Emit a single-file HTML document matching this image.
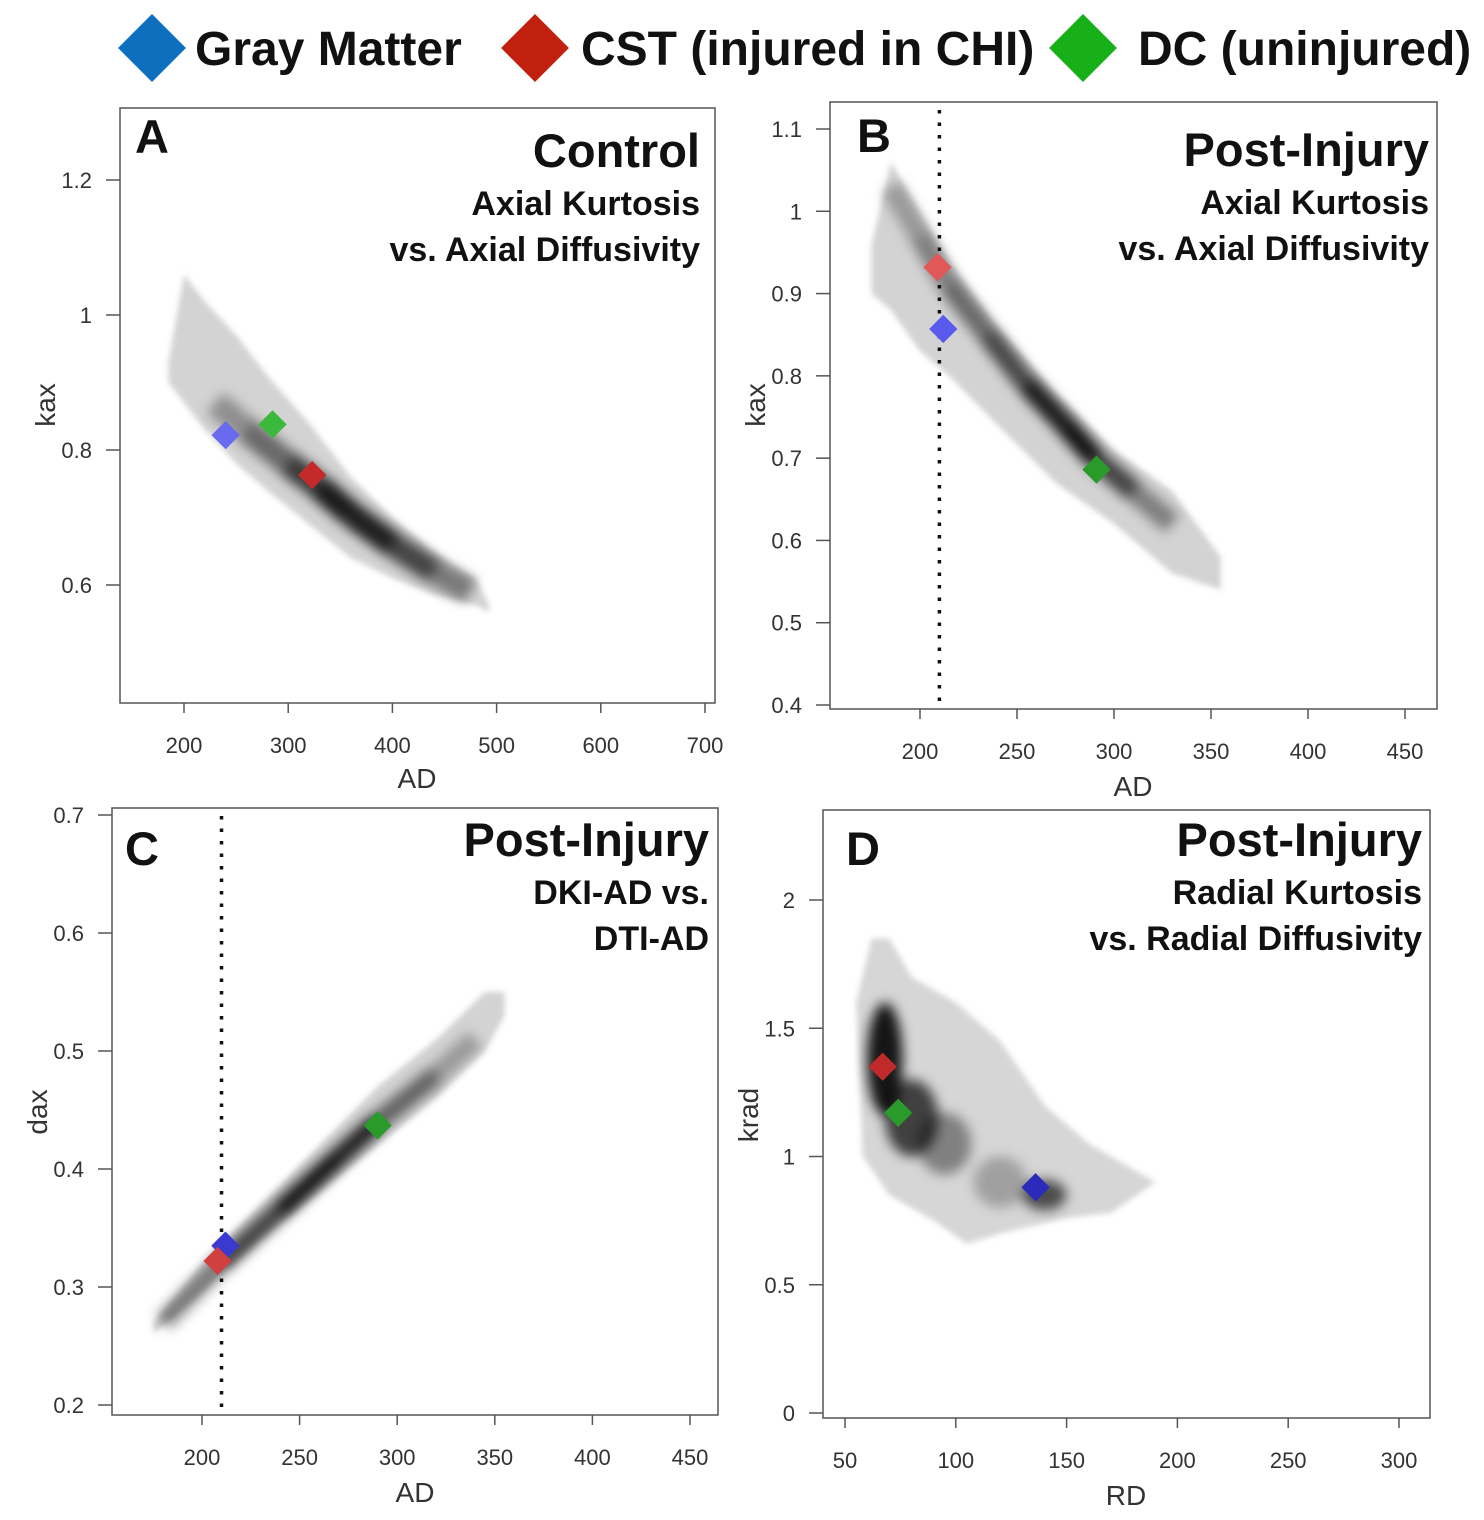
<!DOCTYPE html>
<html><head><meta charset="utf-8">
<style>
html,body{margin:0;padding:0;background:#fff;}
svg{display:block;font-family:"Liberation Sans",Arial,sans-serif;}
.tick{font-size:22px;fill:#333;}
.atitle{font-size:28px;fill:#333;}
.big{font-size:47px;font-weight:bold;fill:#111;}
.sub{font-size:34px;font-weight:bold;fill:#111;}
.leg{font-size:48px;font-weight:bold;fill:#111;}
</style></head>
<body>
<svg id="fig" width="1484" height="1520" viewBox="0 0 1484 1520">
<defs>
<filter id="blur" filterUnits="userSpaceOnUse" x="0" y="0" width="1484" height="1520"><feGaussianBlur stdDeviation="3"/></filter>
<filter id="blur2" filterUnits="userSpaceOnUse" x="0" y="0" width="1484" height="1520"><feGaussianBlur stdDeviation="6"/></filter>
</defs>
<g>
<g>
<rect x="128" y="24" width="48" height="48" fill="#0f6fbf" transform="rotate(45 152 48)"/>
<text class="leg" x="195" y="65">Gray Matter</text></g>
<g>
<rect x="511" y="24" width="48" height="48" fill="#c0200d" transform="rotate(45 535 48)"/>
<text class="leg" x="581" y="65">CST (injured in CHI)</text></g>
<g>
<rect x="1059" y="24" width="48" height="48" fill="#18b018" transform="rotate(45 1083 48)"/>
<text class="leg" x="1138" y="65">DC (uninjured)</text></g>
</g>
</svg>
<script>
// ---------- Panel A data ----------
const aXTicks=[200,300,400,500,600,700];
const aYTicks=[0.6,0.8,1,1.2];
const aBandX=[185,200,220,250,280,320,360,400,440,480,493];
const aBandHi=[0.93,1.06,1.02,0.97,0.91,0.84,0.76,0.70,0.65,0.61,0.57];
const aBandLo=[0.90,0.87,0.83,0.78,0.74,0.69,0.64,0.61,0.585,0.57,0.56];
const aCoreX=[230,260,300,330,360,400,440,475];
const aCoreY=[0.87,0.83,0.78,0.745,0.705,0.66,0.62,0.59];
const aCoreDark=[0.25,0.4,0.6,0.85,0.9,0.8,0.55,0.3];
const aMarkX=[240,285,323];
const aMarkY=[0.822,0.838,0.763];
// ---------- Panel B data ----------
const bXTicks=[200,250,300,350,400,450];
const bYTicks=[0.4,0.5,0.6,0.7,0.8,0.9,1,1.1];
const bBandX=[175,185,200,215,240,270,300,330,355];
const bBandHi=[0.96,1.06,1.0,0.94,0.86,0.78,0.71,0.66,0.58];
const bBandLo=[0.90,0.88,0.83,0.80,0.74,0.67,0.62,0.56,0.54];
const bCoreX=[185,200,215,235,255,275,290,310,330];
const bCoreY=[1.03,0.97,0.91,0.85,0.79,0.74,0.70,0.66,0.62];
const bCoreDark=[0.2,0.35,0.45,0.55,0.75,0.95,0.85,0.5,0.3];
const bMarkX=[212,209,291];
const bMarkY=[0.857,0.932,0.686];
const bCutoff=210;
// ---------- Panel C data ----------
const cXTicks=[200,250,300,350,400,450];
const cYTicks=[0.2,0.3,0.4,0.5,0.6,0.7];
const cBandX=[175,200,230,260,290,320,345,355];
const cBandHi=[0.27,0.32,0.37,0.42,0.47,0.51,0.55,0.55];
const cBandLo=[0.26,0.295,0.34,0.38,0.42,0.46,0.50,0.53];
const cCoreX=[180,210,240,270,290,320,340];
const cCoreY=[0.27,0.32,0.365,0.41,0.44,0.48,0.51];
const cCoreDark=[0.3,0.55,0.8,0.95,0.7,0.35,0.2];
const cMarkX=[212,208,290];
const cMarkY=[0.335,0.322,0.437];
const cCutoff=210;
// ---------- Panel D data ----------
const dXTicks=[50,100,150,200,250,300];
const dYTicks=[0,0.5,1,1.5,2];
const dOutlineX=[55,62,70,80,100,120,140,160,190,170,150,120,105,90,70,58];
const dOutlineY=[1.6,1.85,1.85,1.7,1.6,1.45,1.2,1.05,0.9,0.78,0.76,0.70,0.66,0.75,0.85,1.0];
const dBlobX=[68,80,95,140,120];
const dBlobY=[1.38,1.15,1.05,0.85,0.9];
const dBlobRx=[8,12,12,10,12];
const dBlobRy=[0.22,0.15,0.12,0.06,0.1];
const dBlobDark=[0.9,0.7,0.4,0.65,0.25];
const dMarkX=[136,67,74];
const dMarkY=[0.88,1.35,1.17];

const NS='http://www.w3.org/2000/svg';
const svg=document.getElementById('fig');
function mk(tag,attrs,parent){const e=document.createElementNS(NS,tag);for(const k in attrs)e.setAttribute(k,attrs[k]);parent.appendChild(e);return e;}
function lin(d0,d1,p0,p1){return v=>p0+(v-d0)*(p1-p0)/(d1-d0);}

function panel(cfg){
  const g=mk('g',{},svg);
  
  
  const sx=cfg.sx, sy=cfg.sy, b=cfg.box;
  const plot=mk('g',{},g);
  
  
  cfg.drawCloud(plot,sx,sy);
  if(cfg.cutoff!==undefined){
    const l=mk('line',{x1:sx(cfg.cutoff),x2:sx(cfg.cutoff),y1:b[1]+8,y2:b[3]-4,stroke:'#111','stroke-width':3.5,'stroke-dasharray':'3.5 9'},g);
    
    
  }
  const cols=cfg.markColors;
  for(let i=0;i<cfg.markX.length;i++){
    const px=sx(cfg.markX[i]),py=sy(cfg.markY[i]);
    const r=mk('rect',{x:px-10,y:py-10,width:20,height:20,fill:cols[i],transform:`rotate(45 ${px} ${py})`},g);
    
    
  }
  const box=mk('rect',{x:b[0],y:b[1],width:b[2]-b[0],height:b[3]-b[1],fill:'none',stroke:'#555','stroke-width':1.5},g);
  
  
  const xa=mk('g',{},g);
  
  
  cfg.xTicks.forEach(t=>{
    const x=sx(t);
    mk('line',{x1:x,x2:x,y1:b[3],y2:b[3]+10,stroke:'#555','stroke-width':1.5},xa);
    const tx=mk('text',{x:x,y:b[3]+50,'text-anchor':'middle',class:'tick'},xa);
    tx.textContent=t;
    
    
  });
  const xt=mk('text',{x:cfg.xTitlePos[0],y:cfg.xTitlePos[1],'text-anchor':'middle',class:'atitle'},g);
  xt.textContent=cfg.xTitle;
  
  
  const ya=mk('g',{},g);
  
  
  cfg.yTicks.forEach(t=>{
    const y=sy(t);
    mk('line',{x1:b[0]-14,x2:b[0],y1:y,y2:y,stroke:'#555','stroke-width':1.5},ya);
    const tx=mk('text',{x:b[0]-28,y:y+8,'text-anchor':'end',class:'tick'},ya);
    tx.textContent=t;
    
    
  });
  const yt=mk('text',{x:cfg.yTitlePos[0],y:cfg.yTitlePos[1],'text-anchor':'middle',class:'atitle',transform:`rotate(-90 ${cfg.yTitlePos[0]} ${cfg.yTitlePos[1]})`},g);
  yt.textContent=cfg.yTitle;
  
  
  const lt=mk('text',{x:cfg.letterPos[0],y:cfg.letterPos[1],class:'big'},g);
  lt.textContent=cfg.letter;
  
  
  const tr=b[2]-cfg.titleInset;
  const t1=mk('text',{x:tr,y:b[1]+cfg.titleY,'text-anchor':'end',class:'big'},g);
  t1.textContent=cfg.titles[0];
  
  
  for(let i=1;i<cfg.titles.length;i++){
    const s=mk('text',{x:tr,y:b[1]+cfg.titleY+48+46*(i-1),'text-anchor':'end',class:'sub'},g);
    s.textContent=cfg.titles[i];
    
    
  }
}

function bandCloud(bx,hi,lo,cx,cy,cd,coreW){
  return function(g,sx,sy){
    let pts=[];
    for(let i=0;i<bx.length;i++)pts.push(sx(bx[i])+','+sy(hi[i]));
    for(let i=bx.length-1;i>=0;i--)pts.push(sx(bx[i])+','+sy(lo[i]));
    const p=mk('polygon',{points:pts.join(' '),fill:'#d3d3d3',filter:'url(#blur)'},g);
    
    
    const cg=mk('g',{filter:'url(#blur2)'},g);
    
    
    for(let i=0;i<cx.length-1;i++){
      const d=(cd[i]+cd[i+1])/2;
      const l=mk('line',{x1:sx(cx[i]),y1:sy(cy[i]),x2:sx(cx[i+1]),y2:sy(cy[i+1]),stroke:'#000','stroke-opacity':d,'stroke-width':coreW,'stroke-linecap':'butt'},cg);
      
      
    }
  };
}

const mNames=['gray-matter','cst','dc'];
panel({name:'panel-a',box:[120,108,715,703],sx:lin(200,700,184,705),sy:lin(0.6,1.2,585,180),
  xTicks:aXTicks,yTicks:aYTicks,xTitle:'AD',yTitle:'kax',xTitlePos:[417,788],yTitlePos:[55,405],
  letter:'A',letterPos:[135,153],titles:['Control','Axial Kurtosis','vs. Axial Diffusivity'],titleInset:15,titleY:59,
  drawCloud:bandCloud(aBandX,aBandHi,aBandLo,aCoreX,aCoreY,aCoreDark,26),
  markX:[aMarkX[0],aMarkX[2],aMarkX[1]],markY:[aMarkY[0],aMarkY[2],aMarkY[1]],
  markColors:['#6a6aee','#c42a2a','#3cb83c'],markNames:mNames});
panel({name:'panel-b',box:[830,102,1437,709],sx:lin(200,450,920,1405),sy:lin(0.4,1.1,705,129),
  xTicks:bXTicks,yTicks:bYTicks,xTitle:'AD',yTitle:'kax',xTitlePos:[1133,796],yTitlePos:[765,405],
  letter:'B',letterPos:[857,152],titles:['Post-Injury','Axial Kurtosis','vs. Axial Diffusivity'],titleInset:8,titleY:64,
  drawCloud:bandCloud(bBandX,bBandHi,bBandLo,bCoreX,bCoreY,bCoreDark,22),cutoff:bCutoff,
  markX:bMarkX,markY:bMarkY,markColors:['#5a5aee','#e05858','#2a9a2a'],markNames:mNames});
panel({name:'panel-c',box:[112,808,718,1415],sx:lin(200,450,202,690),sy:lin(0.2,0.7,1405,815),
  xTicks:cXTicks,yTicks:cYTicks,xTitle:'AD',yTitle:'dax',xTitlePos:[415,1502],yTitlePos:[47,1112],
  letter:'C',letterPos:[125,865],titles:['Post-Injury','DKI-AD vs.','DTI-AD'],titleInset:9,titleY:48,
  drawCloud:bandCloud(cBandX,cBandHi,cBandLo,cCoreX,cCoreY,cCoreDark,20),cutoff:cCutoff,
  markX:cMarkX,markY:cMarkY,markColors:['#3a3ad0','#d04040','#2a9a2a'],markNames:mNames});
panel({name:'panel-d',box:[823,810,1430,1418],sx:lin(50,300,845,1399),sy:lin(0,2,1413,900),
  xTicks:dXTicks,yTicks:dYTicks,xTitle:'RD',yTitle:'krad',xTitlePos:[1126,1505],yTitlePos:[758,1115],
  letter:'D',letterPos:[846,865],titles:['Post-Injury','Radial Kurtosis','vs. Radial Diffusivity'],titleInset:8,titleY:46,
  drawCloud:function(g,sx,sy){
    const pts=dOutlineX.map((x,i)=>sx(x)+','+sy(dOutlineY[i])).join(' ');
    const p=mk('polygon',{points:pts,fill:'#d6d6d6',filter:'url(#blur)'},g);
    
    
    const cg=mk('g',{filter:'url(#blur2)'},g);
    
    
    for(let i=0;i<dBlobX.length;i++){
      const rx=Math.abs(sx(dBlobX[i]+dBlobRx[i])-sx(dBlobX[i]));
      const ry=Math.abs(sy(dBlobY[i]+dBlobRy[i])-sy(dBlobY[i]));
      const e=mk('ellipse',{cx:sx(dBlobX[i]),cy:sy(dBlobY[i]),rx:rx,ry:ry,fill:'#000','fill-opacity':dBlobDark[i]},cg);
      
      
    }
  },
  markX:dMarkX,markY:dMarkY,markColors:['#2a2abb','#c02a2a','#2a9a2a'],markNames:mNames});
</script>
</body></html>
